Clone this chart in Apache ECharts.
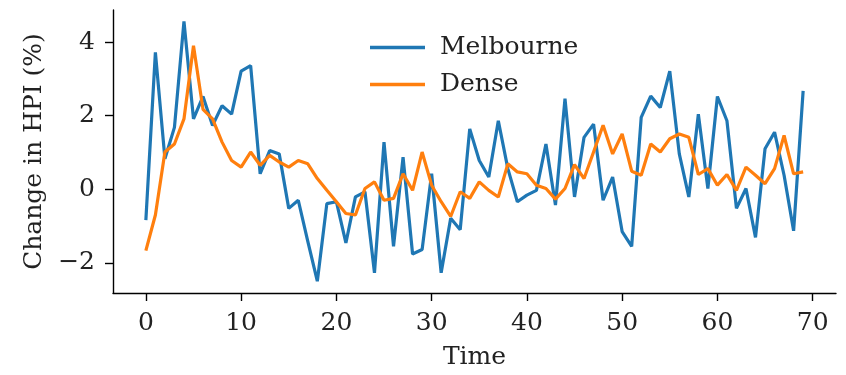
<!DOCTYPE html>
<html>
<head>
<meta charset="utf-8">
<script src="https://cdn.jsdelivr.net/npm/echarts@6/dist/echarts.min.js"></script>
<style>
html,body{margin:0;padding:0;background:#fff;}
#chart{width:846px;height:375px;}
</style>
</head>
<body>
<div id="chart"></div>
<script>
// ---- data ----
const time = [0,1,2,3,4,5,6,7,8,9,10,11,12,13,14,15,16,17,18,19,20,21,22,23,24,25,26,27,28,29,30,31,32,33,34,35,36,37,38,39,40,41,42,43,44,45,46,47,48,49,50,51,52,53,54,55,56,57,58,59,60,61,62,63,64,65,66,67,68,69];
const melbourne = [-0.84,3.72,0.83,1.68,4.56,1.91,2.52,1.73,2.27,2.04,3.21,3.36,0.42,1.05,0.96,-0.52,-0.30,-1.42,-2.50,-0.39,-0.34,-1.46,-0.21,-0.07,-2.27,1.28,-1.55,0.87,-1.76,-1.64,0.42,-2.27,-0.79,-1.10,1.64,0.78,0.33,1.86,0.56,-0.34,-0.16,-0.03,1.23,-0.43,2.46,-0.21,1.41,1.77,-0.30,0.33,-1.15,-1.55,1.95,2.53,2.22,3.21,0.96,-0.21,2.04,0.02,2.52,1.86,-0.52,0.02,-1.31,1.10,1.55,0.38,-1.13,2.67];
const dense = [-1.67,-0.70,1.01,1.23,1.91,3.90,2.17,1.91,1.28,0.78,0.60,1.01,0.65,0.92,0.74,0.60,0.78,0.69,0.29,-0.03,-0.34,-0.66,-0.70,0.02,0.20,-0.30,-0.25,0.42,-0.03,1.01,0.11,-0.34,-0.74,-0.07,-0.25,0.20,-0.03,-0.21,0.69,0.47,0.42,0.11,0.02,-0.27,0.02,0.67,0.29,1.01,1.74,0.96,1.50,0.49,0.38,1.23,1.01,1.37,1.50,1.41,0.40,0.56,0.11,0.40,-0.03,0.60,0.38,0.15,0.56,1.46,0.42,0.47];
const xTicks = [0,10,20,30,40,50,60,70];
const yTicks = [-2,0,2,4];
const seriesNames = ['Melbourne','Dense'];
const xTitle = 'Time';
const yTitle = 'Change in HPI (%)';

const FONT = 'DejaVu Serif';
const chart = echarts.init(document.getElementById('chart'), null, {renderer:'canvas'});
const pairs = arr => arr.map((v,i)=>[time[i], v]);
const axisCommon = {
  axisLine:{show:true, onZero:false, lineStyle:{color:'#000', width:1.4}},
  axisTick:{show:true, length:8, lineStyle:{color:'#000', width:1.4}},
  splitLine:{show:false},
};
chart.setOption({
  animation:false,
  backgroundColor:'#fff',
  grid:{left:113, right:10, top:10, bottom:80, containLabel:false},
  legend:{
    left:365, top:30, orient:'vertical', icon:'rect', itemWidth:55, itemHeight:3.5, itemGap:12,
    textStyle:{fontFamily:FONT, fontSize:25, color:'#222', padding:[0,0,0,10], lineHeight:25},
    data:seriesNames
  },
  xAxis:Object.assign({}, axisCommon, {
    type:'value', min:-3.45, max:72.45,
    axisTick:Object.assign({}, axisCommon.axisTick, {customValues:xTicks}),
    axisLabel:{customValues:xTicks, margin:18, fontFamily:FONT, fontSize:25, color:'#222'},
    name:xTitle, nameLocation:'middle', nameGap:52,
    nameTextStyle:{fontFamily:FONT, fontSize:25, color:'#222'}
  }),
  yAxis:Object.assign({}, axisCommon, {
    type:'value', min:-2.82, max:4.87,
    axisTick:Object.assign({}, axisCommon.axisTick, {customValues:yTicks}),
    axisLabel:{customValues:yTicks, margin:18, fontFamily:FONT, fontSize:25, color:'#222',
      formatter:v=> v<0 ? '\u2212'+Math.abs(v) : String(v)},
    name:yTitle, nameLocation:'middle', nameGap:60,
    nameTextStyle:{fontFamily:FONT, fontSize:25, color:'#222'}
  }),
  series:[
    {name:seriesNames[0], type:'line', data:pairs(melbourne), showSymbol:false, symbol:'none',
     lineStyle:{color:'#1f77b4', width:3.2}, itemStyle:{color:'#1f77b4'}},
    {name:seriesNames[1], type:'line', data:pairs(dense), showSymbol:false, symbol:'none',
     lineStyle:{color:'#ff7f0e', width:3.2}, itemStyle:{color:'#ff7f0e'}}
  ]
});
</script>
</body>
</html>
